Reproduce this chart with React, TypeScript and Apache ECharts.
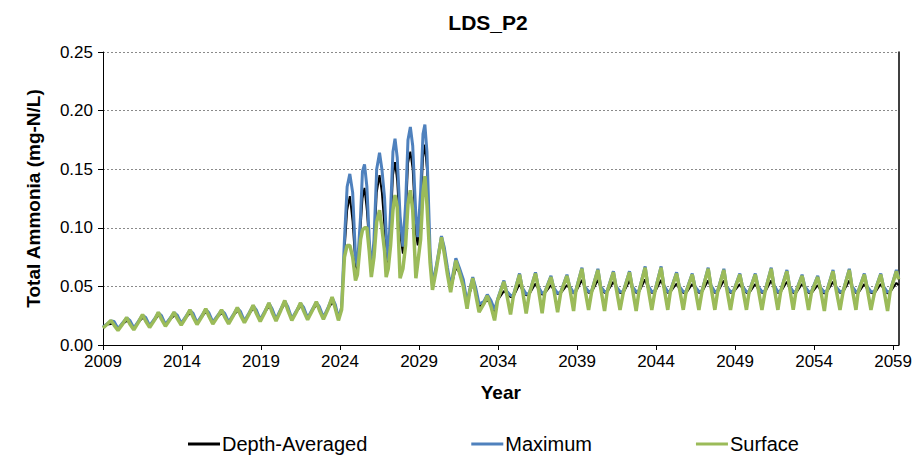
import React, { useEffect, useRef } from "react";
import * as echarts from "echarts";

// Time (decimal years) of each sampled point
const years: number[] = [
  2009.0, 2009.25, 2009.5, 2009.7, 2009.95,
  2010.25, 2010.5, 2010.7, 2010.95,
  2011.25, 2011.5, 2011.7, 2011.95,
  2012.25, 2012.5, 2012.7, 2012.95,
  2013.25, 2013.5, 2013.7, 2013.95,
  2014.25, 2014.5, 2014.7, 2014.95,
  2015.25, 2015.5, 2015.7, 2015.95,
  2016.25, 2016.5, 2016.7, 2016.95,
  2017.25, 2017.5, 2017.7, 2017.95,
  2018.25, 2018.5, 2018.7, 2018.95,
  2019.25, 2019.5, 2019.7, 2019.95,
  2020.25, 2020.5, 2020.7, 2020.95,
  2021.25, 2021.5, 2021.7, 2021.95,
  2022.25, 2022.5, 2022.7, 2022.95,
  2023.25, 2023.5, 2023.7, 2023.9,
  2024.1, 2024.28, 2024.45, 2024.62, 2024.8, 2024.98,
  2025.1, 2025.3, 2025.42, 2025.55, 2025.7, 2025.85, 2025.98,
  2026.15, 2026.32, 2026.5, 2026.65, 2026.82, 2026.92,
  2027.05, 2027.2, 2027.35, 2027.48, 2027.62, 2027.8, 2027.98,
  2028.15, 2028.3, 2028.45, 2028.6, 2028.8, 2028.92,
  2029.1, 2029.25, 2029.37, 2029.5, 2029.7, 2029.85,
  2030.1, 2030.42, 2030.6, 2030.8, 2031.0,
  2031.33, 2031.55, 2031.8, 2032.04,
  2032.2, 2032.4, 2032.6, 2032.8,
  2033.1, 2033.32, 2033.55, 2033.78,
  2033.97, 2034.37, 2034.54, 2034.79,
  2034.96, 2035.36, 2035.53, 2035.78,
  2035.97, 2036.37, 2036.54, 2036.79,
  2036.95, 2037.35, 2037.52, 2037.77,
  2037.96, 2038.36, 2038.53, 2038.78,
  2038.91, 2039.31, 2039.48, 2039.73,
  2039.92, 2040.32, 2040.49, 2040.74,
  2040.90, 2041.30, 2041.47, 2041.72,
  2041.92, 2042.32, 2042.49, 2042.74,
  2042.91, 2043.31, 2043.48, 2043.73,
  2043.92, 2044.32, 2044.49, 2044.74,
  2044.90, 2045.30, 2045.47, 2045.72,
  2045.89, 2046.29, 2046.46, 2046.71,
  2046.90, 2047.30, 2047.47, 2047.72,
  2047.89, 2048.29, 2048.46, 2048.71,
  2048.90, 2049.30, 2049.47, 2049.72,
  2049.88, 2050.28, 2050.45, 2050.70,
  2050.89, 2051.29, 2051.46, 2051.71,
  2051.88, 2052.28, 2052.45, 2052.68,
  2052.84, 2053.24, 2053.41, 2053.65,
  2053.83, 2054.23, 2054.40, 2054.65,
  2054.80, 2055.20, 2055.37, 2055.64,
  2055.83, 2056.23, 2056.40, 2056.65,
  2056.78, 2057.18, 2057.35, 2057.60,
  2057.82, 2058.22, 2058.39, 2058.65,
  2058.81, 2059.21, 2059.35,
];

const depthAveraged: number[] = [
  0.015, 0.0175, 0.018, 0.0185, 0.0135,
  0.018, 0.0205, 0.0195, 0.014,
  0.0195, 0.023, 0.022, 0.016,
  0.021, 0.025, 0.0235, 0.017,
  0.022, 0.025, 0.024, 0.018,
  0.0235, 0.027, 0.0255, 0.0185,
  0.024, 0.028, 0.026, 0.019,
  0.024, 0.027, 0.0255, 0.019,
  0.025, 0.029, 0.027, 0.020,
  0.0265, 0.031, 0.0285, 0.021,
  0.028, 0.033, 0.0295, 0.0215,
  0.0295, 0.035, 0.031, 0.022,
  0.0285, 0.033, 0.0305, 0.0225,
  0.0295, 0.034, 0.031, 0.023,
  0.031, 0.036, 0.033, 0.022,
  0.031, 0.080, 0.115, 0.127, 0.105, 0.068,
  0.064, 0.100, 0.125, 0.134, 0.115, 0.085, 0.060,
  0.080, 0.130, 0.145, 0.130, 0.100, 0.080,
  0.068, 0.100, 0.145, 0.156, 0.140, 0.095, 0.078,
  0.105, 0.155, 0.165, 0.150, 0.095, 0.085,
  0.115, 0.160, 0.171, 0.150, 0.075, 0.050,
  0.066, 0.088, 0.080, 0.062, 0.047,
  0.066, 0.062, 0.052, 0.034,
  0.044, 0.052, 0.045, 0.033,
  0.035, 0.039, 0.035, 0.028,
  0.038, 0.046, 0.044, 0.041,
  0.041, 0.052, 0.047, 0.0425,
  0.043, 0.0525, 0.048, 0.043,
  0.044, 0.051, 0.047, 0.0435,
  0.044, 0.051, 0.048, 0.044,
  0.045, 0.0555, 0.049, 0.0445,
  0.045, 0.0555, 0.049, 0.0445,
  0.045, 0.054, 0.049, 0.0445,
  0.044, 0.055, 0.048, 0.0445,
  0.045, 0.056, 0.049, 0.0445,
  0.045, 0.0555, 0.049, 0.0445,
  0.045, 0.0525, 0.048, 0.0445,
  0.044, 0.052, 0.048, 0.0445,
  0.045, 0.055, 0.049, 0.0445,
  0.045, 0.055, 0.049, 0.0445,
  0.045, 0.052, 0.048, 0.0445,
  0.044, 0.052, 0.048, 0.0445,
  0.045, 0.055, 0.049, 0.0445,
  0.045, 0.054, 0.049, 0.0445,
  0.044, 0.052, 0.048, 0.0445,
  0.044, 0.051, 0.047, 0.044,
  0.045, 0.054, 0.049, 0.0445,
  0.045, 0.055, 0.049, 0.0445,
  0.044, 0.052, 0.048, 0.0445,
  0.044, 0.052, 0.048, 0.044,
  0.045, 0.053, 0.051,
];

const maximum: number[] = [
  0.0155, 0.018, 0.0205, 0.020, 0.014,
  0.019, 0.023, 0.021, 0.0145,
  0.0205, 0.0255, 0.0235, 0.0165,
  0.022, 0.0275, 0.025, 0.0175,
  0.023, 0.0275, 0.0255, 0.0185,
  0.0245, 0.0295, 0.027, 0.019,
  0.025, 0.0305, 0.0275, 0.0195,
  0.025, 0.0295, 0.027, 0.0195,
  0.026, 0.0315, 0.0285, 0.0205,
  0.0275, 0.0335, 0.030, 0.0215,
  0.029, 0.0355, 0.031, 0.022,
  0.0305, 0.0375, 0.0325, 0.0225,
  0.0295, 0.0355, 0.032, 0.023,
  0.0305, 0.0365, 0.0325, 0.0235,
  0.032, 0.0405, 0.0345, 0.023,
  0.032, 0.090, 0.135, 0.146, 0.130, 0.075,
  0.067, 0.110, 0.148, 0.154, 0.135, 0.090, 0.062,
  0.090, 0.150, 0.164, 0.150, 0.125, 0.095,
  0.072, 0.115, 0.165, 0.176, 0.160, 0.110, 0.084,
  0.120, 0.175, 0.186, 0.170, 0.110, 0.092,
  0.130, 0.180, 0.188, 0.165, 0.080, 0.052,
  0.068, 0.093, 0.083, 0.066, 0.050,
  0.074, 0.066, 0.056, 0.036,
  0.047, 0.058, 0.048, 0.035,
  0.037, 0.043, 0.038, 0.030,
  0.039, 0.055, 0.046, 0.0425,
  0.042, 0.061, 0.049, 0.0435,
  0.044, 0.062, 0.050, 0.044,
  0.045, 0.059, 0.049, 0.044,
  0.045, 0.060, 0.050, 0.0445,
  0.046, 0.066, 0.050, 0.0455,
  0.046, 0.065, 0.050, 0.0455,
  0.046, 0.063, 0.050, 0.0455,
  0.0455, 0.063, 0.050, 0.0455,
  0.046, 0.067, 0.051, 0.0455,
  0.046, 0.067, 0.051, 0.0455,
  0.046, 0.062, 0.050, 0.0455,
  0.0455, 0.061, 0.050, 0.0455,
  0.046, 0.066, 0.051, 0.0455,
  0.046, 0.065, 0.050, 0.0455,
  0.046, 0.061, 0.050, 0.0455,
  0.0455, 0.061, 0.050, 0.0455,
  0.046, 0.066, 0.051, 0.0455,
  0.046, 0.064, 0.050, 0.0455,
  0.0455, 0.060, 0.050, 0.0455,
  0.0455, 0.059, 0.049, 0.045,
  0.046, 0.064, 0.050, 0.0455,
  0.046, 0.065, 0.050, 0.0455,
  0.0455, 0.061, 0.050, 0.0455,
  0.0455, 0.061, 0.050, 0.045,
  0.046, 0.064, 0.058,
];

const surface: number[] = [
  0.0145, 0.0175, 0.021, 0.017, 0.0125,
  0.018, 0.0235, 0.018, 0.013,
  0.0195, 0.026, 0.0205, 0.015,
  0.021, 0.028, 0.022, 0.016,
  0.022, 0.028, 0.0225, 0.017,
  0.0235, 0.030, 0.024, 0.0175,
  0.024, 0.031, 0.0245, 0.018,
  0.024, 0.030, 0.024, 0.018,
  0.025, 0.032, 0.0255, 0.019,
  0.0265, 0.034, 0.027, 0.020,
  0.028, 0.036, 0.028, 0.0205,
  0.0295, 0.038, 0.0295, 0.021,
  0.0285, 0.036, 0.029, 0.0215,
  0.0295, 0.037, 0.0295, 0.022,
  0.031, 0.041, 0.031, 0.021,
  0.030, 0.075, 0.085, 0.085, 0.075, 0.055,
  0.060, 0.090, 0.098, 0.100, 0.100, 0.080, 0.058,
  0.075, 0.105, 0.115, 0.100, 0.080, 0.058,
  0.065, 0.085, 0.115, 0.128, 0.118, 0.057, 0.065,
  0.085, 0.120, 0.132, 0.115, 0.057, 0.070,
  0.090, 0.130, 0.144, 0.120, 0.070, 0.047,
  0.065, 0.092, 0.078, 0.060, 0.045,
  0.072, 0.062, 0.050, 0.031,
  0.045, 0.057, 0.042, 0.028,
  0.035, 0.042, 0.033, 0.021,
  0.038, 0.054, 0.044, 0.026,
  0.041, 0.060, 0.048, 0.027,
  0.043, 0.061, 0.049, 0.027,
  0.044, 0.058, 0.048, 0.028,
  0.044, 0.059, 0.049, 0.029,
  0.045, 0.065, 0.049, 0.030,
  0.045, 0.064, 0.049, 0.029,
  0.045, 0.062, 0.049, 0.030,
  0.0445, 0.062, 0.049, 0.029,
  0.045, 0.066, 0.050, 0.030,
  0.045, 0.066, 0.050, 0.030,
  0.045, 0.061, 0.049, 0.030,
  0.0445, 0.060, 0.049, 0.030,
  0.045, 0.065, 0.050, 0.030,
  0.045, 0.064, 0.049, 0.030,
  0.045, 0.060, 0.049, 0.030,
  0.0445, 0.060, 0.049, 0.030,
  0.045, 0.065, 0.050, 0.030,
  0.045, 0.063, 0.049, 0.030,
  0.0445, 0.059, 0.049, 0.030,
  0.0445, 0.058, 0.048, 0.029,
  0.045, 0.063, 0.049, 0.030,
  0.045, 0.064, 0.049, 0.030,
  0.0445, 0.060, 0.049, 0.030,
  0.0445, 0.060, 0.049, 0.029,
  0.045, 0.063, 0.056,
];

const yearTicks: number[] = [2009, 2014, 2019, 2024, 2029, 2034, 2039, 2044, 2049, 2054, 2059];
const seriesNames: string[] = ["Depth-Averaged", "Maximum", "Surface"];

const FONT = "'Liberation Sans', Arial, sans-serif";

function pairs(values: number[]): number[][] {
  const n = Math.min(years.length, values.length);
  const out: number[][] = [];
  for (let i = 0; i < n; i++) out.push([years[i], values[i]]);
  return out;
}

export default function App() {
  const ref = useRef<HTMLDivElement>(null);

  useEffect(() => {
    if (!ref.current) return;
    const chart = echarts.init(ref.current, undefined, { renderer: "svg" });
    chart.setOption({
      animation: false,
      backgroundColor: "#ffffff",
      title: {
        text: "LDS_P2",
        left: 483,
        textAlign: "center",
        top: 7,
        textStyle: { fontFamily: FONT, fontSize: 21, fontWeight: "bold", color: "#000" },
      },
      grid: { left: 103, right: 15, top: 52, bottom: 117, containLabel: false },
      legend: {
        left: 183,
        top: 429,
        itemGap: 104,
        itemWidth: 32,
        itemHeight: 3,
        icon: "rect",
        data: seriesNames,
        textStyle: { fontFamily: FONT, fontSize: 20, color: "#000", padding: [0, 0, 0, -3] },
      },
      xAxis: {
        type: "value",
        min: 2009,
        max: 2059.35,
        interval: 5,
        name: "Year",
        nameLocation: "middle",
        nameGap: 38,
        nameTextStyle: { fontFamily: FONT, fontSize: 19, fontWeight: "bold", color: "#000" },
        axisLine: { show: true, lineStyle: { color: "#000", width: 1 } },
        axisTick: { show: true, length: 5, lineStyle: { color: "#000" }, customValues: yearTicks },
        axisLabel: {
          fontFamily: FONT,
          fontSize: 17,
          color: "#000",
          margin: 8,
          customValues: yearTicks,
          formatter: (v: number) => String(Math.round(v)),
        },
        splitLine: { show: false },
      },
      yAxis: [
        {
          type: "value",
          min: 0,
          max: 0.25,
          interval: 0.05,
          name: "Total Ammonia (mg-N/L)",
          nameLocation: "middle",
          nameGap: 60,
          nameTextStyle: { fontFamily: FONT, fontSize: 19, fontWeight: "bold", color: "#000" },
          axisLine: { show: true, lineStyle: { color: "#000", width: 1 } },
          axisTick: { show: true, length: 5, lineStyle: { color: "#000" } },
          axisLabel: {
            fontFamily: FONT,
            fontSize: 17,
            color: "#000",
            margin: 10,
            formatter: (v: number) => v.toFixed(2),
          },
          splitLine: { show: true, lineStyle: { color: "#8a8a8a", width: 1, type: [2, 2] } },
        },
        {
          type: "value",
          min: 0,
          max: 0.25,
          interval: 0.05,
          position: "right",
          axisLine: { show: true, onZero: false, lineStyle: { color: "#000", width: 1.5 } },
          axisTick: { show: false },
          axisLabel: { show: false },
          splitLine: { show: false },
        },
      ],
      series: [
        {
          name: seriesNames[0],
          type: "line",
          data: pairs(depthAveraged),
          symbol: "none",
          lineStyle: { color: "#000000", width: 2 },
          itemStyle: { color: "#000000" },
        },
        {
          name: seriesNames[1],
          type: "line",
          data: pairs(maximum),
          symbol: "none",
          lineStyle: { color: "#4f81bd", width: 3 },
          itemStyle: { color: "#4f81bd" },
        },
        {
          name: seriesNames[2],
          type: "line",
          data: pairs(surface),
          symbol: "none",
          lineStyle: { color: "#9bbb59", width: 3.5 },
          itemStyle: { color: "#9bbb59" },
        },
      ],
    });
    return () => chart.dispose();
  }, []);

  return (
    <div
      ref={ref}
      style={{ position: "absolute", left: 0, top: 0, width: 915, height: 462 }}
    />
  );
}
